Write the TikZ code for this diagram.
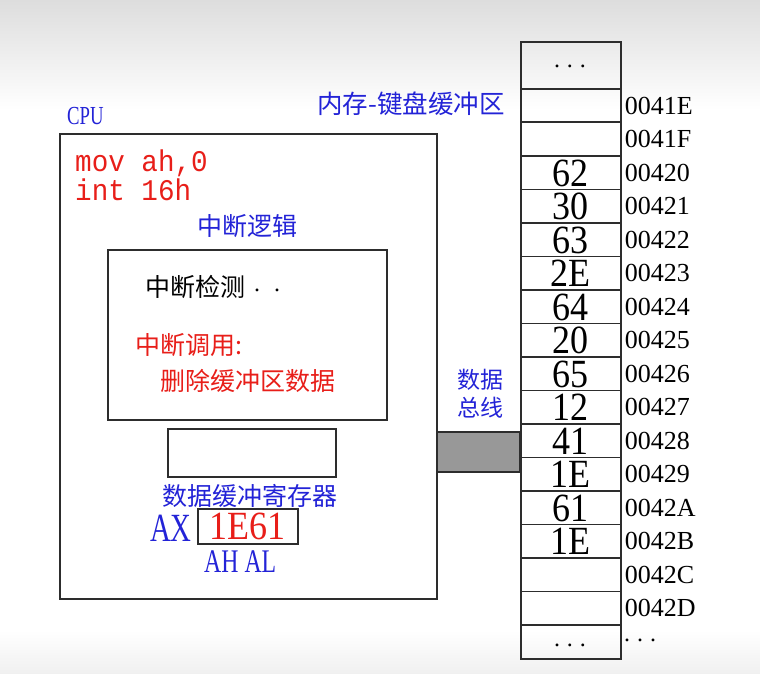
\documentclass[tikz,border=0pt]{standalone}
\usepackage{graphicx}
\usepackage{fontspec}
\setmainfont{Liberation Serif}
\newfontfamily\cjk{Noto Sans CJK SC}
\newfontfamily\codefont[FakeStretch=0.92]{Liberation Mono}
\newfontfamily\numfont[FakeStretch=0.9]{Liberation Serif}
\newfontfamily\narrowfont[FakeStretch=0.72]{Liberation Serif}
\definecolor{lblblue}{RGB}{35,35,215}
\definecolor{lblred}{RGB}{232,30,25}
\definecolor{edge}{RGB}{45,45,45}
\definecolor{busgray}{RGB}{152,152,152}
\tikzset{
  box/.style={draw=edge, line width=1.8pt, anchor=north west, inner sep=0pt, fill=white},
  cell/.style={draw=edge, line width=1.6pt, anchor=north west, inner sep=0pt,
    minimum width=100pt, minimum height=33.5pt, font=\numfont\fontsize{40}{40}\selectfont},
  addr/.style={anchor=west, inner sep=0pt, font=\fontsize{26}{26}\selectfont},
  cjkblue/.style={text=lblblue, inner sep=0pt, font=\cjk\fontsize{25}{25}\selectfont},
  cjkred/.style={text=lblred, inner sep=0pt, font=\cjk\fontsize{25}{25}\selectfont},
  code/.style={text=lblred, anchor=west, inner sep=0pt, font=\codefont\fontsize{30}{30}\selectfont},
  dots/.style={inner sep=0pt, font=\fontsize{24}{24}\selectfont},
}
\begin{document}
\begin{tikzpicture}[x=1pt,y=-1pt]
\useasboundingbox (0,0) rectangle (760,674);
% page background with soft top and bottom fades
\fill[white] (0,0) rectangle (760,674);
\shade[top color={rgb,255:red,221;green,221;blue,221}, bottom color=white] (0,0) rectangle (760,110);
\shade[top color=white, bottom color={rgb,255:red,240;green,240;blue,240}] (0,630) rectangle (760,674);

% CPU block
\node[box, minimum width=377pt, minimum height=465pt] (cpu) at (59,133) {};
\node[anchor=west, inner sep=0pt, text=lblblue, font=\narrowfont\fontsize{26}{26}\selectfont] (cpulbl) at (67,116) {CPU};
\node[code] (mov) at (75,163) {mov ah,0};
\node[code] (int) at (75,190) {int 16h};
\node[cjkblue] (logic) at (247,226) {中断逻辑};

% interrupt logic box
\node[box, minimum width=279pt, minimum height=170pt] (logicbox) at (107,249) {};
\node[anchor=west, inner sep=0pt, font=\cjk\fontsize{25}{25}\selectfont] (detect) at (145,287) {中断检测};
\node[dots, anchor=west] (detectdots) at (254,290) {.\hspace{14pt}.};
\node[cjkred, anchor=west] (call) at (135,345) {中断调用:};
\node[cjkred, anchor=west] (clear) at (160,381) {删除缓冲区数据};

% data buffer register
\node[box, minimum width=168pt, minimum height=48pt] (buf) at (167,428) {};
\node[cjkblue, anchor=west] (buflbl) at (162,496) {数据缓冲寄存器};
\node[box, line width=1.6pt, minimum width=100pt, minimum height=35pt] (ax) at (197,508) {};
\node[text=lblred, inner sep=0pt, font=\numfont\fontsize{40}{40}\selectfont] (axval) at (ax.center) {1E61};
\node[anchor=east, inner sep=0pt, text=lblblue, font=\narrowfont\fontsize{40}{40}\selectfont] (axlbl) at (192,528) {AX};
\node[anchor=west, inner sep=0pt, text=lblblue, font=\narrowfont\fontsize{33}{33}\selectfont] (ahal) at (204,562) {AH\hspace{6pt}AL};

% data bus
\node[box, fill=busgray, line width=1.6pt, minimum width=83pt, minimum height=40pt] (bus) at (436,431) {};
\node[cjkblue, align=center, font=\cjk\fontsize{23}{28}\selectfont] (buslbl) at (480,394) {数据\\总线};

% memory column
\node[cell, minimum height=47pt] (mtop) at (520,41) {};
\node[dots] (mtopdots) at (570,66) {.\hspace{7pt}.\hspace{7pt}.};
\foreach \i/\val/\ad in {0//0041E,1//0041F,2/62/00420,3/30/00421,4/63/00422,5/2E/00423,
  6/64/00424,7/20/00425,8/65/00426,9/12/00427,10/41/00428,11/1E/00429,
  12/61/0042A,13/1E/0042B,14//0042C,15//0042D}{
  \node[cell] (m\i) at (520,{88+33.5*\i}) {};
  \node[inner sep=0pt, font=\numfont\fontsize{40}{40}\selectfont] (v\i) at ([yshift=-0.5pt]m\i.center) {\val};
  \node[addr] (a\i) at ([xshift=3pt]m\i.east) {\ad};
}
\node[cell, minimum height=34pt] (mbot) at (520,624) {};
\node[dots] (mbotdots) at (570,645) {.\hspace{7pt}.\hspace{7pt}.};
\node[dots, anchor=west] (enddots) at (624,640) {.\hspace{7pt}.\hspace{7pt}.};

% caption of the memory column
\node[cjkblue, anchor=east, font=\cjk\fontsize{25.5}{25.5}\selectfont] (memlbl) at (505,104) {内存-键盘缓冲区};
\end{tikzpicture}
\end{document}
